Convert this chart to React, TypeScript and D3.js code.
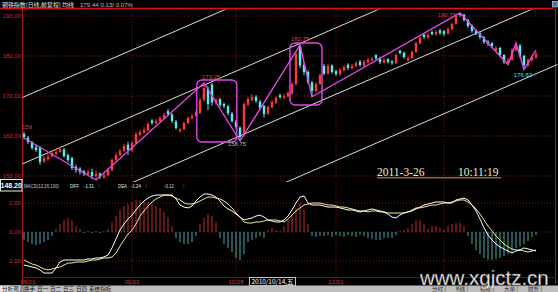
import React from "react";
import * as d3 from "d3";

// ---------- price data (daily candles) ----------
const opens = [160.5,159.6,158.4,157.2,157,153.6,154.2,154.9,155.5,156,
156.6,155.2,154.5,152.3,151.8,151.2,150.4,151,150,150.6,
149.6,150.2,151.4,154,155.2,156.3,157.8,156.4,158.2,160.3,
160.9,161.4,163.9,163.2,163.7,164.4,166.2,165.4,163.6,161.2,
161.7,163.2,164.4,165,165.8,169,171.8,172.9,168.3,169.2,
168,167.4,165.6,163.6,162.1,160.2,167.8,169,169.8,168.6,
167.5,165.6,167.2,168.3,170.2,169.6,169.9,170.6,173,182.4,
177.8,176,173.4,171.2,173,177.5,175.6,177.6,176.2,175.4,
176.4,177.8,176.9,177.5,178.6,177.6,178.4,178.9,180.2,179.4,
178.4,179.2,178.6,178.3,181.3,180.8,178.9,179.5,181,183.2,
185.3,184.6,186,185.4,186.4,186.2,185.6,186.7,188,190.7,
190.3,189,187.6,186.3,185.7,184.7,183.6,183.2,181.4,182,
180.2,178.3,179,181.4,182.6,180,177.6,178.9,179.6];
const highs = [161,160,158.8,157.8,157.5,155,155.5,156.2,156.8,157.2,
157,155.6,154.8,152.8,152.2,151.5,151.6,151.8,151.4,150.9,
150.8,151.9,154.4,155.8,156.8,158,158.6,158.8,161,161.6,
162.2,163.5,164.2,164.3,165,165.8,166.8,165.7,164,162,
163.6,164.9,165.6,166.5,169.5,173.25,172.4,173.2,169.6,169.5,
168.4,167.8,166,164,162.4,168.4,169.8,170.5,170.2,169,
167.8,167.6,168.9,169.9,170.6,170.5,171.2,173.5,181,182.75,
178.4,176.4,173.8,173.4,175.6,178,178,177.9,176.6,177,
177.7,178.2,178,178.7,179,179,179.5,179.8,180.5,179.8,
179.6,179.5,179,180.6,181.6,181.1,179.9,181.4,183.6,185,
185.7,185.7,186.4,186.5,186.8,186.5,187.2,188.4,190.5,190.75,
190.6,189.3,187.9,186.7,186,185,184,183.5,182.5,182.3,
180.5,179.5,182,183.25,183,180.3,179.4,180.2,181];
const lows = [159.2,158,156.6,156,152.8,153.2,153.8,154.6,155.2,155.8,
154.6,153.5,151.5,150.8,150.4,150,150.1,149.2,149,149.3,
149.3,150,151.2,153.8,155,156,155.2,156,158,160,
160.5,161.2,162.8,162.9,163.5,164.2,165.1,163.3,161.6,160.8,
161.5,163,164.2,164.8,165.5,168.6,166.5,167.6,167.8,167.2,
166.9,165.2,163.3,161.8,158.75,159.8,167.5,168.6,168.3,166.5,
164.6,165.2,166.9,168,169.3,169.2,169.6,170.3,172.6,177,
175.2,173,169.8,170.9,172.8,175.2,175.3,175.6,175,175.1,
176.1,176.5,176.6,177.2,177.3,177.3,178.1,178.6,179,178,
178.1,178.1,177.8,178,180.4,179.3,178.6,179.2,180.8,182.9,
184.3,184.3,185.1,185.1,185.3,185,185.3,186.4,187.8,189.8,
188.6,187,185.8,185.2,184.2,183,182.5,182,181,179.8,
178,177.8,178.8,181.1,179.6,176.62,177.3,178.6,179.3];
const closes = [159.75,158.5,157,156.5,153.5,154.5,154.75,155.75,156,156.75,
155,154,152,151.5,151,150.5,151,150,150.5,149.75,
150.25,151.5,154,155.25,156.25,157.5,156.5,158.25,160.5,161,
161.5,163,163.25,163.75,164.5,165.25,165.5,163.75,162,161.6,
163.25,164.5,165,166,169,172,168,168.4,169,167.75,
167.5,165.75,163.75,162.25,159.75,168,169.25,169.75,168.75,167,
165.5,167.25,168.5,169.5,169.75,170,170.75,173,180.5,177.6,
176,173.5,171.25,173,175.25,175.6,177.5,176,175.5,176.5,
177.25,177,177.5,178.25,177.75,178.5,179,179.25,179.4,178.5,
179,178.5,178.25,180.25,180.75,179.75,179.5,181,183.25,184.5,
184.75,185.25,185.5,186,185.75,185.5,186.75,188,190,190.25,
189,187.5,186.25,185.75,184.75,183.5,183,182.5,182,180.25,
178.5,179,181.5,182.5,180,177.75,179,179.75,180.5];

// ---------- MACD(12,26,100) ----------
const diff = [-2.28,-2.34,-2.41,-2.48,-2.62,-2.83,-2.83,-2.83,-2.48,-2.07,
-1.93,-1.93,-1.93,-1.93,-1.93,-1.93,-1.86,-1.86,-1.79,-1.79,
-1.72,-1.59,-1.10,-0.48,0.14,0.55,0.90,1.17,1.52,1.86,
2.14,2.34,2.48,2.55,2.55,2.55,2.55,2.55,2.28,1.86,
1.72,1.66,1.79,2.14,2.41,2.62,2.62,2.55,2.41,2.14,
1.79,1.59,1.45,1.24,1.03,0.83,0.90,0.97,1.10,1.17,
1.03,0.83,0.76,0.69,0.69,0.83,1.10,1.52,2.00,2.41,
2.48,2.00,1.86,1.86,1.86,1.79,1.72,1.72,1.72,1.66,
1.59,1.52,1.52,1.45,1.38,1.45,1.52,1.59,1.52,1.45,
1.38,1.24,1.03,0.97,1.17,1.31,1.38,1.45,1.59,1.72,
1.86,1.93,2.00,2.07,2.07,2.07,2.00,2.00,2.21,2.28,
2.34,2.21,1.86,1.45,0.90,0.28,-0.21,-0.55,-0.83,-1.03,
-1.17,-1.31,-1.45,-1.31,-1.24,-1.10,-1.17,-1.24,-1.31];
const dea = [-1.93,-2.07,-2.21,-2.28,-2.41,-2.55,-2.62,-2.55,-2.48,-2.41,
-2.28,-2.14,-2.14,-2.07,-2.07,-2.07,-2.00,-1.93,-1.93,-1.86,
-1.79,-1.79,-1.72,-1.45,-0.97,-0.55,-0.14,0.14,0.55,1.10,
1.45,1.79,2.07,2.28,2.41,2.55,2.55,2.48,2.34,2.21,
2.00,1.93,1.93,2.00,2.14,2.28,2.41,2.41,2.34,2.28,
2.14,1.93,1.66,1.31,1.03,0.69,0.62,0.62,0.69,0.69,
0.76,0.83,0.83,0.83,0.76,0.69,0.90,1.17,1.45,1.66,
1.86,1.93,2.00,2.00,2.00,1.93,1.86,1.86,1.79,1.72,
1.72,1.66,1.59,1.52,1.45,1.45,1.38,1.45,1.45,1.38,
1.38,1.31,1.31,1.31,1.31,1.31,1.38,1.52,1.66,1.66,
1.72,1.79,1.86,1.86,1.93,2.00,2.00,2.07,2.14,2.21,
2.21,2.07,1.86,1.59,1.24,0.83,0.41,0.07,-0.28,-0.55,
-0.83,-1.03,-1.17,-1.24,-1.24,-1.31,-1.38,-1.31,-1.24];
const macd = [-0.55,-0.69,-0.83,-0.90,-0.83,-0.69,-0.55,-0.28,0.21,0.55,
0.83,0.97,0.83,0.41,0.21,-0.07,0.07,-0.07,0.07,-0.07,
0.07,0.21,0.69,1.10,1.52,1.79,1.93,2.07,2.21,2.21,
2.14,2.07,1.93,1.79,1.66,1.38,1.03,0.41,-0.41,-0.69,
-0.83,-0.83,-0.69,-0.28,0.55,0.97,1.24,1.10,0.69,-0.41,
-0.83,-1.10,-1.38,-1.79,-1.93,-1.52,-0.69,-0.55,-0.41,-0.28,
-0.41,0.14,0.28,0.14,0.07,0.41,0.83,1.24,1.66,2.00,
1.52,0.55,-0.28,-0.34,-0.28,-0.28,-0.21,-0.34,-0.21,-0.28,
-0.34,-0.21,-0.28,-0.34,-0.21,-0.28,-0.41,-0.48,-0.55,-0.55,
-0.41,-0.41,-0.41,-0.21,0.07,0.14,0.28,0.55,0.83,0.83,
0.55,0.21,0.41,0.41,0.28,0.14,0.41,0.55,0.62,0.62,
0.41,-0.28,-0.83,-1.24,-1.52,-1.79,-1.93,-1.93,-1.86,-1.79,
-1.66,-1.52,-1.38,-1.10,-0.97,-0.83,-0.62,-0.34,-0.21];

// ---------- axes ----------
const priceTicks = [150, 160, 170, 180, 190];
const macdTicks = [-2, 0, 2];
const dateTickIdx = [1, 27, 53, 78];
const dateTickLabels = ["08/01", "09/02", "10/08", "12/01"];
const vGridIdx = [27, 53, 78, 105];

// ---------- drawn studies ----------
const pivotIdx = [0, 18, 45, 54, 69, 72, 109, 121, 123, 125, 128];
const pivotPrice = [159.5, 149, 173.25, 158.75, 182.75, 169.8, 190.75, 177.8, 183.25, 176.62, 181.5];
const pivotLabelAt = [0, 2, 3, 4, 6, 9];
const pivotLabelText = ["159", "173.25", "158.75", "182.75", "190.75", "176.62"];
const channelBase = [169.8, 153.2, 136.6, 120.0];
const channelSlope = 0.434;
const channelSpan = [-0.5, 135];
const boxIdx = [[43.2, 53.2], [66.5, 74.5]];
const boxPrice = [[174, 158.5], [183.25, 167.75]];

const toolbarTabs = ["分析图表", "换手", "日一", "日二", "日三", "日四", "系统指标"];
const toolbarTabs2 = ["分时", "K线", "指标", "大单", "财务"];

const SANS = "'Liberation Sans', Arial, sans-serif";
const CJK = "'Noto Sans CJK SC', 'Noto Sans', sans-serif";

export default function App() {
  const n = closes.length;
  const x = d3.scaleLinear().domain([0, n - 1]).range([24, 536]);
  const y = d3.scaleLinear().domain([150, 190]).range([176, 16]);
  const ym = d3.scaleLinear().domain([-2, 2]).range([261, 203]);
  const RED = "#ff3838";
  const CYAN = "#52f0f0";
  const GRID = "#8a1818";
  const MAG = "#e048e8";
  const bw = 2.4;

  const zig = d3
    .line<number>()
    .x((_, i) => x(pivotIdx[i]))
    .y((d) => y(d))(pivotPrice) as string;
  const lineM = d3
    .line<number>()
    .x((_, i) => x(i))
    .y((d) => ym(d));

  const labelOffsets: [number, number, string, string][] = [
    [-2, -9, "start", "#d04848"],
    [-2, -4, "start", "#d04848"],
    [-3, 5, "middle", "#9fbcbc"],
    [0, -4, "middle", "#d04848"],
    [-4, 4, "end", "#c84040"],
    [-1, 7, "middle", "#4fe6e6"],
  ];

  return (
    <svg
      width={558}
      height={292}
      style={{ position: "fixed", left: 0, top: 0, display: "block" }}
      fontFamily={SANS}
    >
      <defs>
        <clipPath id="mainClip">
          <rect x={22.5} y={9.5} width={535} height={172.5} />
        </clipPath>
      </defs>
      <rect x={0} y={0} width={558} height={292} fill="#000" />

      {/* title bar */}
      <text x={2} y={6.8} fontSize={6} fill="#e8e8e8" fontFamily={CJK} textLength={72} lengthAdjust="spacingAndGlyphs">
        钢铁指数(日线,前复权) 均线
      </text>
      <text x={80} y={6.6} fontSize={6.2} fill="#b8b8b8" textLength={53} lengthAdjust="spacingAndGlyphs">
        179.44  0.13/ 0.07%
      </text>
      <rect x={552.5} y={1.5} width={5} height={5.5} fill="#3a78b8" stroke="#e0e0e0" strokeWidth={0.6} />
      <line x1={0} x2={553} y1={8.5} y2={8.5} stroke="#e01010" strokeWidth={1.6} />

      {/* grid */}
      {priceTicks.map((t) => (
        <g key={"p" + t}>
          <line x1={22} x2={555} y1={y(t)} y2={y(t)} stroke={GRID} strokeDasharray="1 2" />
          <text x={21} y={y(t) + 2} fontSize={6} fill="#c83030" textAnchor="end">
            {t.toFixed(2)}
          </text>
        </g>
      ))}
      {macdTicks.map((t) => (
        <g key={"m" + t}>
          <line x1={22} x2={555} y1={ym(t)} y2={ym(t)} stroke={GRID} strokeDasharray="1 2" />
          <text x={21} y={ym(t) + 2} fontSize={6} fill="#c83030" textAnchor="end">
            {t.toFixed(2)}
          </text>
        </g>
      ))}
      {vGridIdx.map((i) => (
        <line key={"v" + i} x1={x(i)} x2={x(i)} y1={9.5} y2={277} stroke={GRID} strokeDasharray="1 2" />
      ))}
      <line x1={22.5} x2={22.5} y1={9} y2={284} stroke="#b01818" />
      <line x1={555.5} x2={555.5} y1={9} y2={284} stroke="#b01818" />
      <line x1={22} x2={556} y1={277.5} y2={277.5} stroke="#6a1010" />

      {/* main panel */}
      <g clipPath="url(#mainClip)">
        {channelBase.map((b, k) => (
          <line
            key={"c" + k}
            x1={x(channelSpan[0])}
            y1={y(b + channelSlope * channelSpan[0])}
            x2={x(channelSpan[1])}
            y2={y(b + channelSlope * channelSpan[1])}
            stroke="#dcdcdc"
            strokeWidth={1}
          />
        ))}
        {closes.map((c, i) => {
          const o = opens[i];
          const up = c >= o;
          const col = up ? RED : CYAN;
          const top = y(Math.max(o, c));
          const bot = y(Math.min(o, c));
          return (
            <g key={"k" + i}>
              <line x1={x(i)} x2={x(i)} y1={y(highs[i])} y2={y(lows[i])} stroke={col} strokeWidth={1} />
              <rect x={x(i) - bw / 2} y={top} width={bw} height={Math.max(1, bot - top)} fill={col} />
            </g>
          );
        })}
        <path d={zig} fill="none" stroke={MAG} strokeWidth={1.4} />
        {boxIdx.map((bx, k) => (
          <rect
            key={"b" + k}
            x={x(bx[0])}
            y={y(boxPrice[k][0])}
            width={x(bx[1]) - x(bx[0])}
            height={y(boxPrice[k][1]) - y(boxPrice[k][0])}
            rx={5}
            fill="none"
            stroke={MAG}
            strokeWidth={1.4}
          />
        ))}
      </g>
      {pivotLabelAt.map((p, k) => {
        const [dx, dy, anchor, col] = labelOffsets[k];
        return (
          <text
            key={"pl" + k}
            x={x(pivotIdx[p]) + dx}
            y={y(pivotPrice[p]) + dy}
            fontSize={6}
            fill={col}
            textAnchor={anchor as any}
          >
            {pivotLabelText[k]}
          </text>
        );
      })}

      {/* date/time stamp */}
      <text x={377} y={176} fontSize={11.5} fill="#efefc0" fontFamily="'Liberation Serif', serif">
        2011-3-26
      </text>
      <text x={458} y={176} fontSize={11.5} fill="#efefc0" fontFamily="'Liberation Serif', serif">
        10:11:19
      </text>
      <line x1={377} x2={501} y1={177.8} y2={177.8} stroke="#a8a860" strokeWidth={1} />

      {/* MACD header */}
      <rect x={0.5} y={179.5} width={21.5} height={11.5} fill="#000" stroke="#f0f0f0" strokeWidth={1} />
      <text x={11.2} y={188.2} fontSize={7} fill="#ffffff" textAnchor="middle" fontWeight="bold">
        148.20
      </text>
      <text x={24} y={188} fontSize={6} fill="#c8c8c8" textLength={35} lengthAdjust="spacingAndGlyphs">
        MACD(12,26,100)
      </text>
      <text x={70} y={188} fontSize={6} fill="#e8e8e8" textLength={9} lengthAdjust="spacingAndGlyphs">DIFF</text>
      <text x={84} y={188} fontSize={6} fill="#e8e8e8" textLength={10} lengthAdjust="spacingAndGlyphs">-1.31</text>
      <text x={97.5} y={188} fontSize={6} fill={RED}>↑</text>
      <text x={118} y={188} fontSize={6} fill="#e8e8b0" textLength={9} lengthAdjust="spacingAndGlyphs">DEA</text>
      <text x={131} y={188} fontSize={6} fill="#e8e8b0" textLength={10} lengthAdjust="spacingAndGlyphs">-1.24</text>
      <text x={144.5} y={188} fontSize={6} fill={RED}>↑</text>
      <text x={164} y={188} fontSize={6} fill="#d8d8d8" textLength={10} lengthAdjust="spacingAndGlyphs">-0.12</text>
      <text x={182} y={188} fontSize={6} fill={RED}>↑</text>

      {/* MACD histogram */}
      {macd.map((v, i) => (
        <line
          key={"h" + i}
          x1={x(i)}
          x2={x(i)}
          y1={ym(0)}
          y2={ym(v)}
          stroke={v >= 0 ? "#c42a2a" : "#3fb0b0"}
          strokeWidth={1}
        />
      ))}
      <path d={lineM(dea) as string} fill="none" stroke="#ecec90" strokeWidth={1} />
      <path d={lineM(diff) as string} fill="none" stroke="#ffffff" strokeWidth={1} />

      {/* date axis */}
      {dateTickIdx.map((i, k) => (
        <text key={"d" + i} x={x(i)} y={283.5} fontSize={6} fill="#d03030" textAnchor="middle">
          {dateTickLabels[k]}
        </text>
      ))}
      <rect x={249.5} y={277.5} width={46} height={8} fill="#000" stroke="#f0f0f0" strokeWidth={0.8} />
      <text x={272.5} y={284} fontSize={6} fill="#ffffff" textAnchor="middle" fontFamily={CJK} textLength={42} lengthAdjust="spacingAndGlyphs">
        2010/10/14,五
      </text>

      {/* bottom toolbar */}
      <rect x={0} y={285.5} width={558} height={6.5} fill="#bdbdbd" />
      <rect x={0} y={285.5} width={22} height={6.5} fill="#e8e8e8" />
      {toolbarTabs.map((t, k) => (
        <text
          key={"t" + k}
          x={2 + (k === 0 ? 0 : 22 + (k - 1) * 13)}
          y={291.3}
          fontSize={5.6}
          fill="#101010"
          fontFamily={CJK}
        >
          {t}
        </text>
      ))}
      {toolbarTabs2.map((t, k) => (
        <text key={"t2" + k} x={432 + k * 24} y={291.3} fontSize={5.6} fill="#303030" fontFamily={CJK}>
          {t} |
        </text>
      ))}

      {/* watermark */}
      <text
        x={420}
        y={285}
        fontSize={20.5}
        fill="#ffffff"
        stroke="#404040"
        strokeWidth={0.4}
        fontFamily={SANS}
      >
        www.xgjctz.cn
      </text>
    </svg>
  );
}
